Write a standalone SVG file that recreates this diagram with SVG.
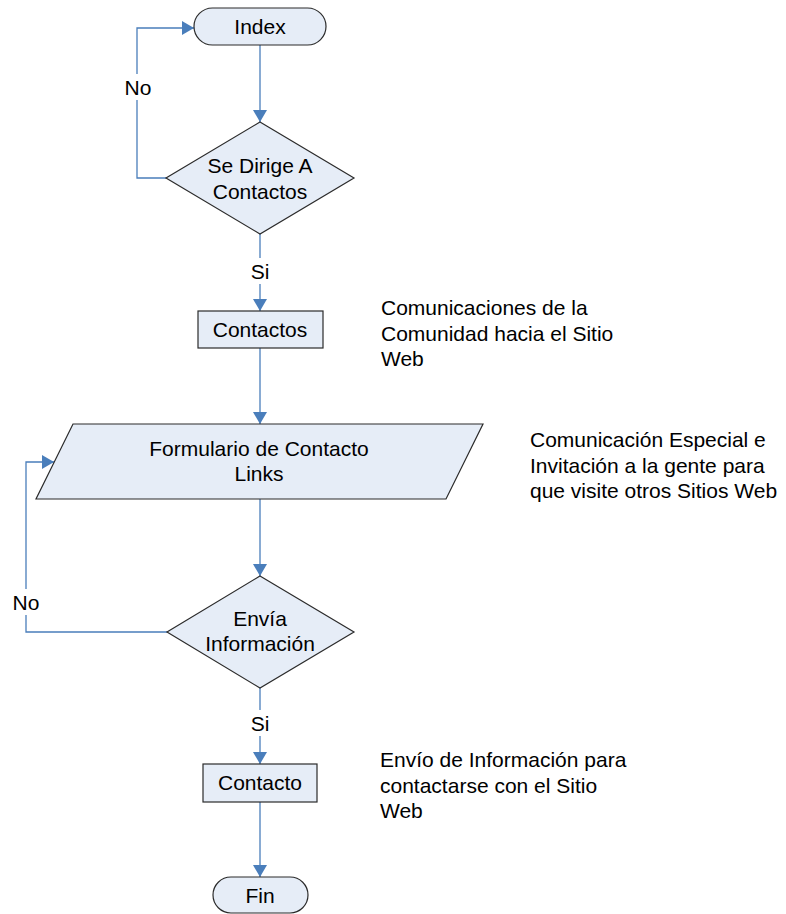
<svg xmlns="http://www.w3.org/2000/svg" width="786" height="914" viewBox="0 0 786 914">
<defs>
<marker id="ah" viewBox="0 0 12 14" refX="12" refY="7" markerWidth="12" markerHeight="14" markerUnits="userSpaceOnUse" orient="auto">
<path d="M0,0 L12,7 L0,14 z" fill="#4a7ebb"/>
</marker>
<style>
.sh{fill:#e6edf7;stroke:#2b2b2b;stroke-width:1.2}
.t{font-family:"Liberation Sans",Arial,sans-serif;font-size:21px;fill:#000}
.c{text-anchor:middle}
.ln{fill:none;stroke:#4a7ebb;stroke-width:1.3}
.lb{fill:#fff}
</style>
</defs>
<rect width="786" height="914" fill="#fff"/>
<g id="connectors">
<path class="ln" d="M260,45 V122" marker-end="url(#ah)"/>
<path class="ln" d="M166,178 H137 V28 H194" marker-end="url(#ah)"/>
<path class="ln" d="M260,234 V311" marker-end="url(#ah)"/>
<path class="ln" d="M260,348 V424" marker-end="url(#ah)"/>
<path class="ln" d="M260,499 V576" marker-end="url(#ah)"/>
<path class="ln" d="M167,632 H26 V462 H54" marker-end="url(#ah)"/>
<path class="ln" d="M260,688 V764" marker-end="url(#ah)"/>
<path class="ln" d="M260,802 V877" marker-end="url(#ah)"/>
<rect class="lb" x="119" y="74" width="38" height="26"/>
<text class="t c" x="138" y="95">No</text>
<rect class="lb" x="245" y="258" width="30" height="26"/>
<text class="t c" x="260" y="279">Si</text>
<rect class="lb" x="7" y="589" width="38" height="26"/>
<text class="t c" x="26" y="610">No</text>
<rect class="lb" x="245" y="710" width="30" height="26"/>
<text class="t c" x="260" y="731">Si</text>
</g>
<g id="index">
<rect class="sh" x="194" y="8" width="132" height="37" rx="18.5"/>
<text class="t c" x="260" y="34">Index</text>
</g>
<g id="dirige">
<polygon class="sh" points="260,122 354,178 260,234 166,178"/>
<text class="t c" x="260" y="173">Se Dirige A</text>
<text class="t c" x="260" y="199">Contactos</text>
</g>
<g id="contactos">
<rect class="sh" x="198" y="311" width="125" height="37"/>
<text class="t c" x="260" y="337">Contactos</text>
</g>
<g id="formulario">
<polygon class="sh" points="73,424 483,424 446,499 36,499"/>
<text class="t c" x="259" y="456">Formulario de Contacto</text>
<text class="t c" x="259" y="481">Links</text>
</g>
<g id="envia">
<polygon class="sh" points="260,576 354,632 260,688 167,632"/>
<text class="t c" x="260" y="626">Envía</text>
<text class="t c" x="260" y="651">Información</text>
</g>
<g id="contacto">
<rect class="sh" x="203" y="764" width="114" height="38"/>
<text class="t c" x="260" y="790">Contacto</text>
</g>
<g id="fin">
<rect class="sh" x="213" y="877" width="95" height="36" rx="18"/>
<text class="t c" x="260" y="903">Fin</text>
</g>
<g id="notes">
<text class="t" x="381" y="315">Comunicaciones de la</text>
<text class="t" x="381" y="341">Comunidad hacia el Sitio</text>
<text class="t" x="381" y="366">Web</text>
<text class="t" x="530" y="447">Comunicación Especial e</text>
<text class="t" x="530" y="473">Invitación a la gente para</text>
<text class="t" x="530" y="498">que visite otros Sitios Web</text>
<text class="t" x="380" y="767">Envío de Información para</text>
<text class="t" x="380" y="793">contactarse con el Sitio</text>
<text class="t" x="380" y="818">Web</text>
</g>
</svg>
